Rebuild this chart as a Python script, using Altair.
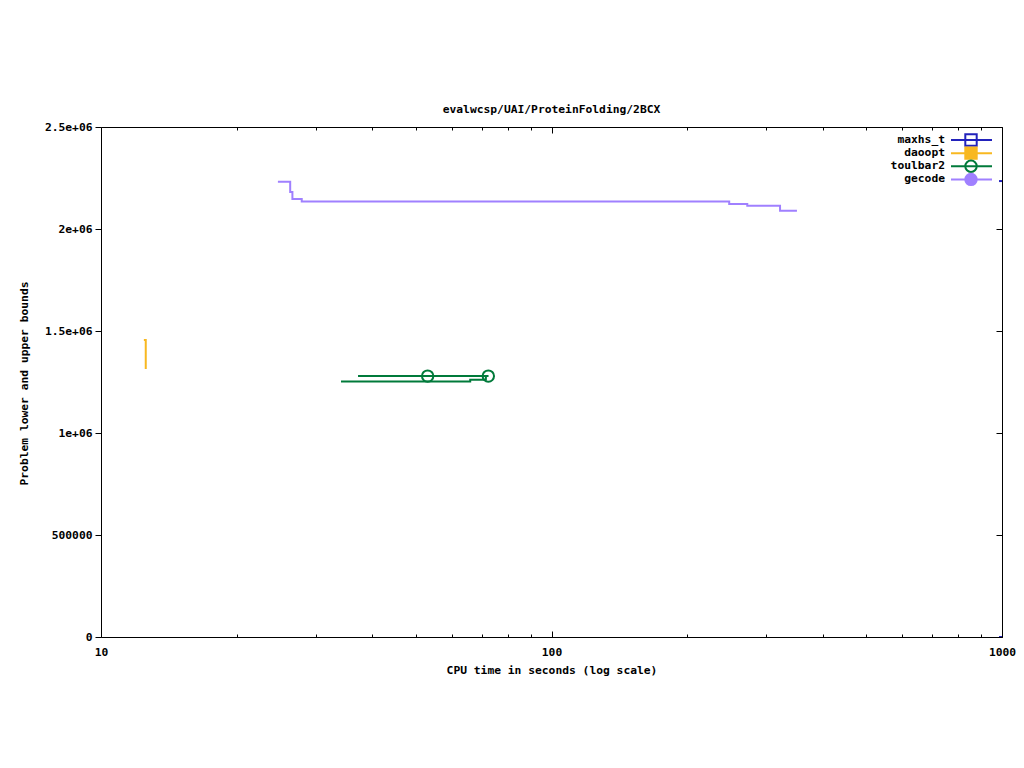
import altair as alt
import pandas as pd

FONT = "DejaVu Sans Mono"
FS = 11.3

solvers = ["maxhs_t", "daoopt", "toulbar2", "gecode"]
colors = ["#2222bb", "#f8b820", "#007a3a", "#a080ff"]
shapes = ["square", "square", "circle", "circle"]
fills = ["transparent", "#f8b820", "transparent", "#a080ff"]

# time (s) / bound values
maxhs_upper_t = [985, 1000]
maxhs_upper_v = [2235000, 2235000]
maxhs_lower_t = [985, 1000]
maxhs_lower_v = [0, 0]
daoopt_t = [12.45, 12.57]
daoopt_v = [1456000, 1314000]
toulbar2_upper_t = [37.2, 72.4]
toulbar2_upper_v = [1279000, 1279000]
toulbar2_lower_t = [34.1, 66.0, 71.5, 72.4]
toulbar2_lower_v = [1253000, 1261000, 1279000, 1279000]
gecode_t = [24.7, 26.3, 26.6, 27.9, 248, 272, 321.6, 350.6]
gecode_v = [2232000, 2181000, 2147000, 2135000, 2122500, 2114000, 2090000, 2090000]
toulbar2_marker_t = [53.1, 72.4]
toulbar2_marker_v = [1279000, 1279000]

x_major = [10, 100, 1000]
x_minor = [20, 30, 40, 50, 60, 70, 80, 90, 200, 300, 400, 500, 600, 700, 800, 900]
y_ticks = [0, 500000, 1000000, 1500000, 2000000, 2500000]

W, H = 901, 510

series = [
    ("maxhs_t", "upper", maxhs_upper_t, maxhs_upper_v),
    ("maxhs_t", "lower", maxhs_lower_t, maxhs_lower_v),
    ("daoopt", "upper", daoopt_t, daoopt_v),
    ("toulbar2", "upper", toulbar2_upper_t, toulbar2_upper_v),
    ("toulbar2", "lower", toulbar2_lower_t, toulbar2_lower_v),
    ("gecode", "upper", gecode_t, gecode_v),
]
rows = []
for s, b, ts, vs in series:
    for t, v in zip(ts, vs):
        rows.append({"solver": s, "series": s + "_" + b, "t": t, "v": v})
df = pd.DataFrame(rows)
markers = pd.DataFrame({"solver": ["toulbar2"] * len(toulbar2_marker_t),
                        "t": toulbar2_marker_t, "v": toulbar2_marker_v})
leg_df = pd.DataFrame({"solver": solvers, "row": list(range(len(solvers)))})

xscale = alt.Scale(type="log", domain=[10, 1000], nice=False)
yscale = alt.Scale(domain=[0, 2500000], nice=False, zero=True)
color = alt.Color("solver:N", scale=alt.Scale(domain=solvers, range=colors), legend=None)
shape = alt.Shape("solver:N", scale=alt.Scale(domain=solvers, range=shapes), legend=None)
fill = alt.Fill("solver:N", scale=alt.Scale(domain=solvers, range=fills), legend=None)

ylabel_expr = ("datum.value == 0 ? '0' : datum.value < 1000000 ? format(datum.value, 'd') : "
               "replace(format(datum.value, '.2~e'), 'e+6', 'e+06')")

ax_bottom = alt.Axis(orient="bottom", values=x_major, format="d", tickSize=6, offset=-6,
                     domain=False, grid=False, labelPadding=18, labelBaseline="alphabetic",
                     labelFlush=False, labelOverlap=False,
                     title="CPU time in seconds (log scale)", titleY=42, titleX=W / 2,
                     titleAlign="center", titleBaseline="alphabetic")
ax_bottom_minor = alt.Axis(orient="bottom", values=x_minor, tickSize=3, offset=-3,
                           domain=False, grid=False, labels=False, title=None)
ax_top = alt.Axis(orient="top", values=x_major, tickSize=6, offset=-6,
                  domain=False, grid=False, labels=False, title=None)
ax_top_minor = alt.Axis(orient="top", values=x_minor, tickSize=3, offset=-3,
                        domain=False, grid=False, labels=False, title=None)
ax_left = alt.Axis(orient="left", values=y_ticks, tickSize=6, domain=False, grid=False,
                   labelPadding=3, labelExpr=ylabel_expr, labelFlush=False,
                   title="Problem lower and upper bounds", titleAngle=270, titleX=-74,
                   titleY=256, titleAlign="center", titleBaseline="alphabetic")
ax_right = alt.Axis(orient="right", values=y_ticks, tickSize=6, offset=-6, domain=False,
                    grid=False, labels=False, title=None)

lines = alt.Chart(df).mark_line(interpolate="step-after", strokeWidth=2, clip=True).encode(
    x=alt.X("t:Q", scale=xscale, axis=ax_bottom),
    y=alt.Y("v:Q", scale=yscale, axis=ax_left),
    color=color,
    detail="series:N",
)
carrier_b = alt.Chart(df).mark_line(strokeOpacity=0).encode(
    x=alt.X("t:Q", scale=xscale, axis=ax_bottom_minor),
    y=alt.Y("v:Q", scale=yscale, axis=ax_right),
    detail="series:N",
)
carrier_c = alt.Chart(df).mark_line(strokeOpacity=0).encode(
    x=alt.X("t:Q", scale=xscale, axis=ax_top),
    y=alt.Y("v:Q", scale=yscale, axis=None),
    detail="series:N",
)
carrier_d = alt.Chart(df).mark_line(strokeOpacity=0).encode(
    x=alt.X("t:Q", scale=xscale, axis=ax_top_minor),
    y=alt.Y("v:Q", scale=yscale, axis=None),
    detail="series:N",
)
pts = alt.Chart(markers).mark_point(size=130, strokeWidth=2, opacity=1, clip=True).encode(
    x=alt.X("t:Q", scale=xscale, axis=None),
    y=alt.Y("v:Q", scale=yscale, axis=None),
    color=color, shape=shape, fill=fill,
)

leg_y = alt.Y("row:Q", scale=alt.Scale(domain=[0, 3], range=[13, 52.4], nice=False, zero=False),
              axis=None)
leg_rule = alt.Chart(leg_df).mark_rule(strokeWidth=2).encode(
    x=alt.value(850), x2=alt.value(891), y=leg_y, color=color)
leg_pt = alt.Chart(leg_df).mark_point(size=130, strokeWidth=2, opacity=1).encode(
    x=alt.value(870), y=leg_y, color=color, shape=shape, fill=fill)
leg_txt = alt.Chart(leg_df).mark_text(align="right", baseline="middle", font=FONT,
                                      fontSize=FS, fontWeight="bold", color="black").encode(
    x=alt.value(844), y=leg_y, text="solver:N")
legend = alt.layer(leg_rule, leg_pt, leg_txt)

chart = alt.layer(lines, carrier_b, carrier_c, carrier_d, pts, legend).resolve_axis(
    x="independent", y="independent"
).resolve_scale(y="independent").properties(
    width=W, height=H,
    autosize=alt.AutoSizeParams(type="none"),
    padding={"left": 93, "top": 119, "right": 14, "bottom": 100},
    title=alt.TitleParams("evalwcsp/UAI/ProteinFolding/2BCX", font=FONT, fontSize=FS,
                          fontWeight="bold", color="black", offset=-3,
                          baseline="alphabetic", anchor="middle"),
).configure_view(stroke="black", strokeWidth=1).configure_axis(
    labelFont=FONT, labelFontSize=FS, labelFontWeight="bold", labelColor="black",
    titleFont=FONT, titleFontSize=FS, titleFontWeight="bold", titleColor="black",
    tickColor="black", tickWidth=1,
)

chart.save("out.html", embed_options={"renderer": "svg", "actions": False})
